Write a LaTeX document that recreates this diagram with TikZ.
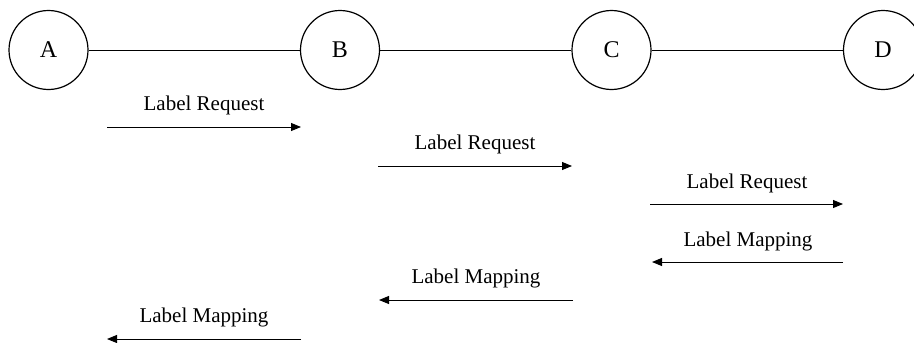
\documentclass[tikz,border=0pt]{standalone}
\usepackage{fontspec}
\setmainfont{Liberation Serif}
\usetikzlibrary{arrows.meta}
\begin{document}
\begin{tikzpicture}[x=1pt,y=-1pt,
  router/.style={circle,draw,line width=1.2pt,minimum size=79pt,inner sep=0pt,font=\fontsize{24}{28}\selectfont},
  link/.style={line width=1pt},
  msg/.style={line width=1pt,-{Triangle[length=10pt,width=8pt]}},
  msglabel/.style={anchor=base,inner sep=0pt,font=\fontsize{21}{25}\selectfont}]
  \useasboundingbox (0,0) rectangle (914,343);

  % routers along the path
  \node[router] (A) at (48.5,50) {A};
  \node[router] (B) at (340,50) {B};
  \node[router] (C) at (611.5,50) {C};
  \node[router] (D) at (883,50) {D};
  \draw[link] (A) -- (B);
  \draw[link] (B) -- (C);
  \draw[link] (C) -- (D);

  % downstream label requests
  \coordinate (r1s) at (107,127);  \coordinate (r1e) at (301,127);
  \coordinate (r2s) at (378,166);  \coordinate (r2e) at (572,166);
  \coordinate (r3s) at (650,204);  \coordinate (r3e) at (843,204);
  \node[msglabel] (lr1) at (204,110.5) {Label Request};
  \node[msglabel] (lr2) at (475,149.5) {Label Request};
  \node[msglabel] (lr3) at (747,188) {Label Request};
  \draw[msg] (r1s) -- (r1e);
  \draw[msg] (r2s) -- (r2e);
  \draw[msg] (r3s) -- (r3e);

  % upstream label mappings
  \coordinate (m1s) at (843,262);  \coordinate (m1e) at (652,262);
  \coordinate (m2s) at (573,300);  \coordinate (m2e) at (379,300);
  \coordinate (m3s) at (301,339);  \coordinate (m3e) at (107,339);
  \node[msglabel] (lm1) at (748,246) {Label Mapping};
  \node[msglabel] (lm2) at (476,283.5) {Label Mapping};
  \node[msglabel] (lm3) at (204,322) {Label Mapping};
  \draw[msg] (m1s) -- (m1e);
  \draw[msg] (m2s) -- (m2e);
  \draw[msg] (m3s) -- (m3e);
\end{tikzpicture}
\end{document}
